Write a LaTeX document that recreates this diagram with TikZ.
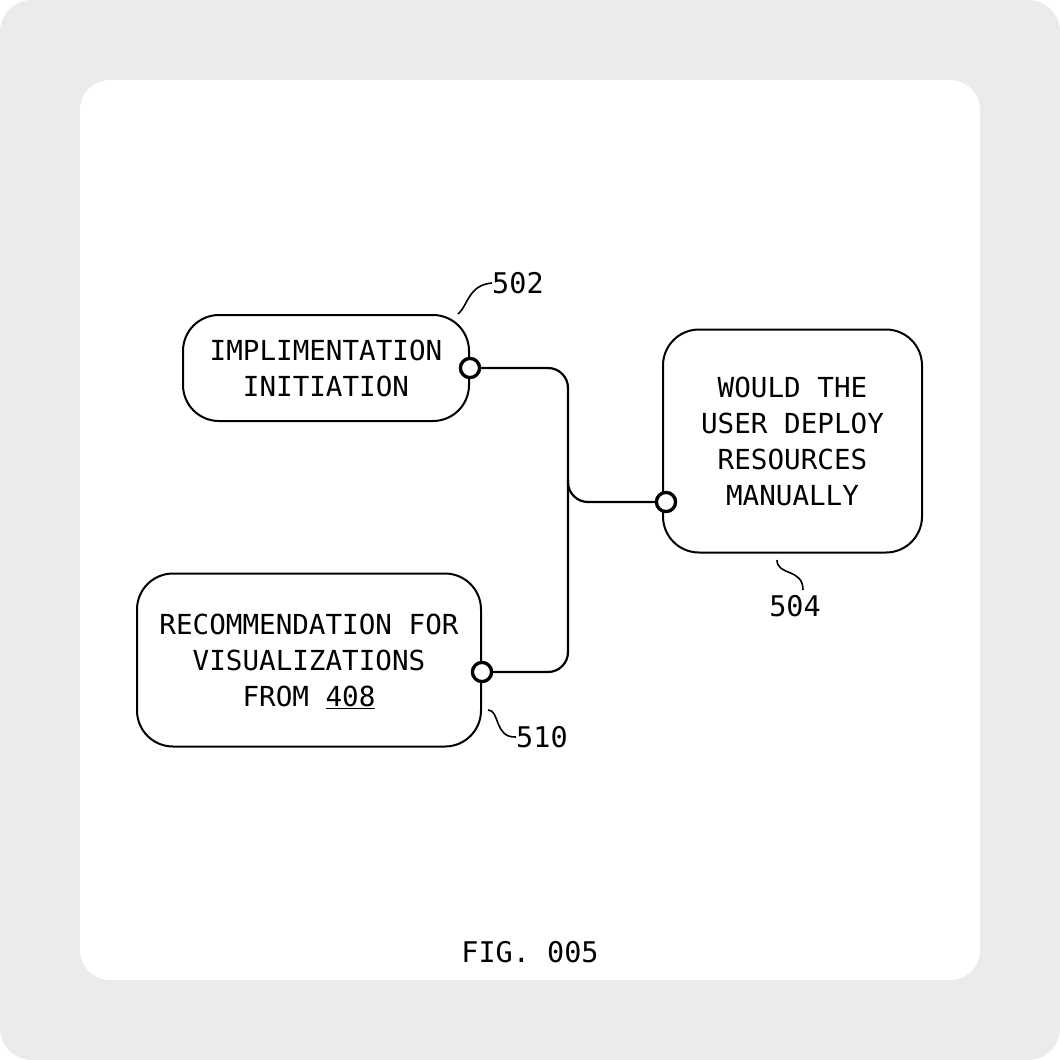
\documentclass[tikz,border=0pt]{standalone}
\usepackage{fontspec}
\setmonofont{DejaVu Sans Mono}
\definecolor{bggray}{HTML}{EBEBEB}
\begin{document}
\begin{tikzpicture}[x=1pt,y=-1pt,
  box/.style={draw=black, line width=2pt, rounded corners=36pt, fill=white,
    align=center, inner sep=0pt, text depth=0pt,
    font=\fontsize{27.6}{36}\selectfont\ttfamily},
  port/.style={circle, draw=black, line width=3.2pt, fill=white, minimum size=19pt, inner sep=0pt},
  wire/.style={draw=black, line width=2.2pt, rounded corners=20pt},
  leader/.style={draw=black, line width=1.6pt},
  reflabel/.style={inner sep=0pt, font=\fontsize{28.5}{34}\selectfont\ttfamily}
]
\path[use as bounding box] (0,0) rectangle (1060,1060);
\fill[bggray, rounded corners=32pt] (0,0) rectangle (1060,1060);
\fill[white, rounded corners=30pt] (80,80) rectangle (980,980);

% boxes
\node[box, minimum width=286pt, minimum height=106pt] (b502) at (326,368)
  {IMPLIMENTATION\\INITIATION};
\node[box, minimum width=259pt, minimum height=223pt] (b504) at (792.5,441)
  {WOULD THE\\USER DEPLOY\\RESOURCES\\MANUALLY};
\node[box, minimum width=344pt, minimum height=173pt] (b510) at (309,660)
  {RECOMMENDATION FOR\\VISUALIZATIONS\\FROM \underline{408}};

% ports
\coordinate (j) at (568,502);
\coordinate (jt) at (568,480);
\node[port] (p502) at (470,368) {};
\node[port] (p504) at (666,502) {};
\node[port] (p510) at (482,672) {};

% wires
\draw[wire] (p502.east) -| (j) -- (p504.west);
\draw[wire] (p510.east) -| (jt);

% redraw ports on top
\node[port] at (p502) {};
\node[port] at (p504) {};
\node[port] at (p510) {};

% reference labels
\node[reflabel, anchor=west] (l502) at (492,283) {502};
\node[reflabel] (l504) at (795,606) {504};
\node[reflabel, anchor=west] (l510) at (516,737) {510};

\coordinate (s502) at (458,314);
\coordinate (s504) at (777,560);
\coordinate (s510) at (488,710);
\draw[leader] (s502) .. controls (468,306) and (468,285) .. (l502.west);
\draw[leader] (s504) .. controls (777,576) and (803,568) .. (803,590);
\draw[leader] (s510) .. controls (500,710) and (494,738) .. (l510.west);

\node[reflabel] (fig) at (530,952) {FIG. 005};
\end{tikzpicture}
\end{document}
